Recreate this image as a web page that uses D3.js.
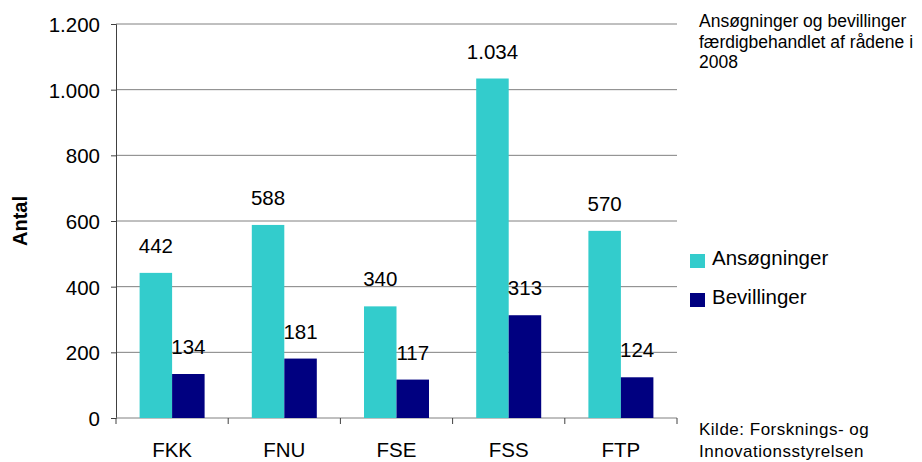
<!DOCTYPE html>
<html>
<head>
<meta charset="utf-8">
<script src="https://cdn.jsdelivr.net/npm/d3@7"></script>
<style>
  body { margin: 0; background: #fff; }
  svg text { font-family: "Liberation Sans", Arial, sans-serif; fill: #000; }
</style>
</head>
<body>
<div id="chart"></div>
<script>
const categories = ["FKK", "FNU", "FSE", "FSS", "FTP"]
const seriesNames = ["Ansøgninger", "Bevillinger"]
const ansoegninger = [442, 588, 340, 1034, 570]
const bevillinger = [134, 181, 117, 313, 124]
const yTicks = [0, 200, 400, 600, 800, 1000, 1200]
const colors = ["#33CCCC", "#000080"]

const width = 922
const height = 462
const margin = { top: 24, right: 245, bottom: 44, left: 116 }

const svg = d3.select("div#chart").append("svg").attr("width", width).attr("height", height)

const x = d3.scaleBand().domain(categories).range([margin.left, width - margin.right])
const x1 = d3.scaleBand().domain(seriesNames).range([0, 65])
const y = d3.scaleLinear().domain([0, 1200]).range([height - margin.bottom, margin.top])

const locale = d3.formatLocale({ decimal: ",", thousands: ".", grouping: [3], currency: ["", " kr."] })
const fmt = locale.format(",d")

// gridlines
svg.append("g").selectAll("line").data(yTicks.filter(d => d > 0)).join("line")
    .attr("x1", margin.left).attr("x2", width - margin.right)
    .attr("y1", d => y(d)).attr("y2", d => y(d))
    .attr("stroke", "#808080").attr("stroke-width", 1)

const yAxis = d3.axisLeft(y).tickValues(yTicks).tickFormat(fmt).tickSize(5).tickPadding(11)
const yAxisGroup = svg.append("g").attr("transform", `translate(${margin.left},0)`).call(yAxis)
yAxisGroup.select(".domain").attr("stroke", "#404040")
yAxisGroup.selectAll(".tick line").attr("stroke", "#404040")
yAxisGroup.selectAll("text").attr("font-size", 20.5).attr("dy", "0.36em")

const xAxis = d3.axisBottom(x).tickSize(0).tickPadding(24)
const xAxisGroup = svg.append("g").attr("transform", `translate(0,${y(0)})`).call(xAxis)
xAxisGroup.select(".domain").attr("d", `M${margin.left},0H${width - margin.right}`).attr("stroke", "#808080")
xAxisGroup.selectAll("text").attr("font-size", 20.5)
// category separators
svg.append("g").selectAll("line").data(categories.concat(["end"])).join("line")
    .attr("x1", (d, i) => margin.left + i * x.bandwidth())
    .attr("x2", (d, i) => margin.left + i * x.bandwidth())
    .attr("y1", y(0)).attr("y2", y(0) + 6)
    .attr("stroke", "#404040")

const data = categories.map((c, i) => ({ cat: c, values: [ansoegninger[i], bevillinger[i]] }))

const groups = svg.append("g").selectAll("g").data(data).join("g")
    .attr("transform", d => `translate(${x(d.cat) + (x.bandwidth() - 65) / 2},0)`)

groups.selectAll("rect").data(d => d.values.map((v, j) => ({ s: seriesNames[j], v, j }))).join("rect")
    .attr("x", d => x1(d.s))
    .attr("y", d => y(d.v))
    .attr("width", x1.bandwidth())
    .attr("height", d => y(0) - y(d.v))
    .attr("fill", d => colors[d.j])

groups.selectAll("text").data(d => d.values.map((v, j) => ({ s: seriesNames[j], v, j }))).join("text")
    .attr("x", d => x1(d.s) + x1.bandwidth() / 2)
    .attr("y", d => y(d.v) - 20)
    .attr("text-anchor", "middle")
    .attr("font-size", 20.5)
    .text(d => fmt(d.v))

// axis title
svg.append("text")
    .attr("transform", `translate(27,${(margin.top + y(0)) / 2}) rotate(-90)`)
    .attr("text-anchor", "middle")
    .attr("font-size", 20).attr("font-weight", "bold")
    .text("Antal")

// legend
const legend = svg.append("g").selectAll("g").data(seriesNames).join("g")
    .attr("transform", (d, i) => `translate(690,${254 + i * 39})`)
legend.append("rect").attr("width", 15).attr("height", 14).attr("fill", (d, i) => colors[i])
legend.append("text").attr("x", 22).attr("y", 11).attr("font-size", 20.5).text(d => d)

// notes
const note = svg.append("text").attr("font-size", 17.5)
note.selectAll("tspan").data(["Ansøgninger og bevillinger", "færdigbehandlet af rådene i", "2008"]).join("tspan")
    .attr("x", 699).attr("y", (d, i) => 27 + i * 20.5).text(d => d)

const source = svg.append("text").attr("font-size", 17).attr("letter-spacing", 0.5)
source.selectAll("tspan").data(["Kilde: Forsknings- og", "Innovationsstyrelsen"]).join("tspan")
    .attr("x", 699).attr("y", (d, i) => 435 + i * 22).text(d => d)
</script>
</body>
</html>
